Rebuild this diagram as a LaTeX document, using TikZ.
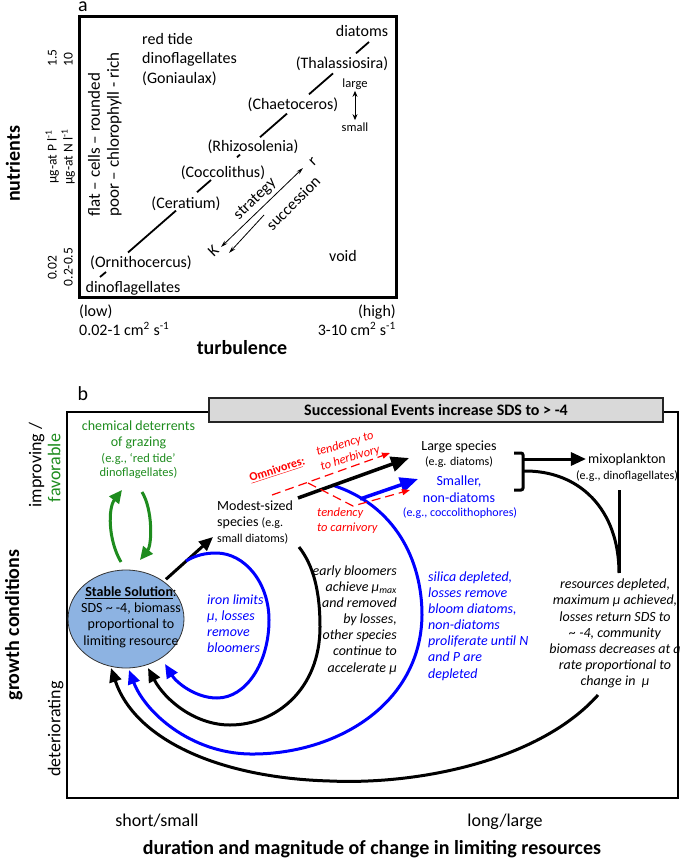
\documentclass[tikz,border=0pt]{standalone}
\usepackage{fontspec}
\setmainfont{Carlito}
\usetikzlibrary{arrows.meta,shapes.geometric}
\definecolor{grn}{RGB}{30,140,30}
\definecolor{ellblue}{RGB}{141,179,226}
\definecolor{hdrgray}{RGB}{217,217,217}
\begin{document}
\begin{tikzpicture}[x=1pt,y=-1pt,
  every node/.style={inner sep=0pt},
  sl/.style={text height={#1*0.72pt}, text depth={#1*0.02pt}},
  f16/.style={font=\fontsize{16}{19.5}\selectfont},
  f17/.style={font=\fontsize{17}{20}\selectfont},
  f125/.style={font=\fontsize{12.5}{15}\selectfont},
  f135/.style={font=\fontsize{13.5}{16}\selectfont},
  f14/.style={font=\fontsize{14}{16.2}\selectfont},
  f14i/.style={font=\fontsize{14}{16.1}\selectfont\itshape},
  f12/.style={font=\fontsize{12}{14}\selectfont},
  f18/.style={font=\fontsize{18}{21}\selectfont},
  fbig/.style={font=\fontsize{20}{24}\selectfont\bfseries},
  frd/.style={font=\fontsize{12.5}{15}\selectfont\itshape, text=red},
  seg/.style={line width=1.8pt},
  grnarrow/.style={draw=grn, line width=3pt, -{Triangle[length=13pt,width=12pt]}},
  blkloop/.style={draw=black, line width=3pt, -{Triangle[length=14pt,width=12pt]}},
  blueloop/.style={draw=blue, line width=3pt, -{Triangle[length=14pt,width=12pt]}},
  bigblk/.style={draw=black, line width=3.5pt, -{Triangle[length=18pt,width=15pt]}},
  bigblue/.style={draw=blue, line width=3.5pt, -{Triangle[length=18pt,width=15pt]}},
  reddash/.style={draw=red, line width=1.2pt, dash pattern=on 9pt off 5pt, -{Triangle[length=8pt,width=6pt]}},
  smallarr/.style={line width=0.8pt, -{Stealth[length=7pt,width=4pt]}},
]
\path[use as bounding box] (0,0) rectangle (685,858);

% ================= panel a =================
\node[font=\fontsize{20}{24}\selectfont, anchor=base, text height=10pt, text depth=0pt] (lbla) at (83,12) {a};
\draw[line width=3pt] (79,17) rectangle (396,297);

\node[f16,sl=16] (diat) at (362,31) {diatoms};
\node[f16,sl=16] (thal) at (342,63) {(Thalassiosira)};
\node[f16,align=left,anchor=west] (redt) at (142,59.5) {red tide\\dinoflagellates\\(Goniaulax)};
\node[f125,sl=12.5] (lg) at (355,83) {large};
\node[f125,sl=12.5] (sm) at (355,127) {small};
\draw[line width=0.9pt, {Stealth[length=6pt,width=5pt]}-{Stealth[length=6pt,width=5pt]}, shorten <=3pt, shorten >=2pt] (lg) -- (sm);
\node[f16,sl=16] (chae) at (293,104) {(Chaetoceros)};
\node[f16,sl=16] (rhiz) at (253,146) {(Rhizosolenia)};
\node[f16,sl=16] (cocc) at (223,172) {(Coccolithus)};
\node[f16,sl=16] (cera) at (186,203) {(Ceratium)};
\node[f16,sl=16] (orni) at (141,262) {(Ornithocercus)};
\node[f16,sl=16] (dino) at (133,287) {dinoflagellates};
\node[f16,sl=16] (void) at (343,256) {void};

\draw[seg] (100,277) -- (106,272);
\draw[seg] (128,252.5) -- (176,210.6);
\draw[seg] (197,192.2) -- (211,180);
\draw[seg] (237,157.3) -- (240,154.6);
\draw[seg] (260,137.2) -- (287,113.6);
\draw[seg] (309,94.3) -- (333,73.4);
\draw[seg] (356,53.3) -- (369,42);

\node[f17,sl=17,rotate=90,anchor=west] (flat) at (94,217) {flat – cells – rounded};
\node[f17,sl=17,rotate=90,anchor=west] (poor) at (113,217) {poor – chlorophyll - rich};

\node[fbig,sl=20,rotate=90] (nutr) at (13,164) {nutrients};
\node[f135,sl=13.5,rotate=90] (ugp) at (52,157) {µg-at P l\textsuperscript{-1}};
\node[f135,sl=13.5,rotate=90] (ugn) at (68,157) {µg-at N l\textsuperscript{-1}};
\node[f135,sl=13.5,rotate=90] (t15) at (52,58) {1.5};
\node[f135,sl=13.5,rotate=90] (t10) at (68,60) {10};
\node[f135,sl=13.5,rotate=90] (t002) at (52,268) {0.02};
\node[f135,sl=13.5,rotate=90] (t0205) at (68,267) {0.2-0.5};

\node[f16,sl=16,anchor=west] (low) at (79,311) {(low)};
\node[f16,sl=16,anchor=east] (high) at (396,311) {(high)};
\node[f16,sl=16,anchor=west] (lowv) at (79,330) {0.02-1 cm\textsuperscript{2} s\textsuperscript{-1}};
\node[f16,sl=16,anchor=east] (highv) at (396,330) {3-10 cm\textsuperscript{2} s\textsuperscript{-1}};
\node[fbig,sl=20] (turb) at (242,347) {turbulence};

\coordinate (kend) at (221,247);
\coordinate (rend) at (303,168);
\coordinate (s1) at (264,215);
\coordinate (s2) at (229,253);
\draw[line width=0.8pt, {Stealth[length=7pt,width=4pt]}-{Stealth[length=7pt,width=4pt]}] (kend) -- (rend);
\draw[smallarr] (s1) -- (s2);
\node[f16,sl=16,rotate=44] (strat) at (254,198) {strategy};
\node[f16,sl=16,rotate=45] (succ) at (293,203) {succession};
\node[f16,sl=16,rotate=44] (K) at (213,251) {K};
\node[f16,sl=16,rotate=44] (r) at (312,161) {r};

% ================= panel b =================
\node[font=\fontsize{20}{24}\selectfont, anchor=base] (lblb) at (83,400) {b};
\draw[line width=2.5pt] (67,412) rectangle (678,798);
\node[draw=black!85, fill=hdrgray, line width=1.3pt, minimum width=454pt, minimum height=24pt, font=\fontsize{16}{19}\selectfont\bfseries] (hdr) at (436,410) {Successional Events increase SDS to > -4};

\node[text=grn, align=center, font=\fontsize{14}{16.5}\selectfont] (chem) at (138.5,435) {chemical deterrents\\of grazing};
\node[font=\fontsize{12.5}{14}\selectfont, text=grn, align=center] (eg) at (138.5,466.5) {(e.g., ‘red tide’\\dinoflagellates)};

\draw[grnarrow] (121,562) .. controls (108,540) and (108,508) .. (122,490);
\draw[grnarrow] (142,492) .. controls (153,510) and (152,545) .. (140,560);

\node[ellipse, draw=black!80, line width=0.8pt, fill=ellblue, minimum width=116pt, minimum height=98pt] (ss) at (126,619) {};
\node[f14, align=center] (sstxt) at (131,617) {\underline{\textbf{Stable Solution}}:\\SDS \textasciitilde{} -4, biomass\\proportional to\\limiting resource};

\node[f14i, text=blue, align=left, anchor=west] (iron) at (207,624) {iron limits\\µ, losses\\remove\\bloomers};

\coordinate (modtip) at (213,537);
\draw[blkloop, shorten <=3pt] (ss.45) -- (modtip);
\node[f14, align=left, anchor=west] (modest) at (217,522.5) {Modest-sized\\species {\fontsize{12}{16}\selectfont (e.g.}\\{\fontsize{12}{16}\selectfont small diatoms)}};

% loops back to the stable solution
\draw[blueloop] (186,561) .. controls (196,555) and (206,553) .. (216,553) .. controls (245,553) and (269,583) .. (269,620) .. controls (269,663) and (246,698) .. (217,698) .. controls (195,698) and (176,682) .. (165,664);
\draw[blkloop] (299,547) .. controls (313,565) and (320,590) .. (320,627) .. controls (320,690) and (275,725) .. (230,725) .. controls (195,725) and (165,700) .. (148,668);
\draw[blueloop] (332,485) .. controls (395,505) and (422,560) .. (422,615) .. controls (421,705) and (335,755) .. (250,754) .. controls (190,753) and (145,712) .. (129,670);
\draw[blkloop] (598,695) .. controls (540,760) and (420,785) .. (330,781) .. controls (220,778) and (135,740) .. (111,668);

% succession arrows
\draw[bigblk] (298,498) -- (409,458);
\draw[bigblue] (360,499) -- (418,479);
\draw[reddash] (272,495) -- (390,453);
\draw[reddash] (308,483) -- (353,506) -- (410,490);

\node[font=\fontsize{12}{14}\selectfont\bfseries, text=red, sl=12, rotate=18] (omni) at (277,469) {\underline{Omnivores}:};
\node[frd, align=left, rotate=17] (herb) at (348,451) {tendency to\\to herbivory};
\node[frd, align=left, anchor=west] (carn) at (317,520.5) {tendency\\to carnivory};

\node[f14,sl=14] (lsp) at (459,446) {Large species};
\node[f12,sl=12] (lspeg) at (459,461) {(e.g. diatoms)};
\node[f14,sl=14,text=blue] (smal) at (459,481) {Smaller,};
\node[f14,sl=14,text=blue] (nond) at (459,497.5) {non-diatoms};
\node[f12,sl=12,text=blue] (nondeg) at (460,512) {(e.g., coccolithophores)};

\draw[line width=3pt, rounded corners=2pt] (514,453) -- (523,453) -- (523,490) -- (514,490);
\node[f14,sl=14] (mixo) at (627,459) {mixoplankton};
\node[f12,sl=12] (mixoeg) at (627,475) {(e.g., dinoflagellates)};
\coordinate (brk) at (523,459);
\draw[line width=3pt, -{Triangle[length=15pt,width=13pt]}, shorten >=2pt] (brk) -- (mixo);
\draw[line width=3pt] (523,471) .. controls (580,470) and (619,510) .. (619,573);
\draw[line width=3pt] (619,490) -- (619,573);

\node[f14i, align=center] (res) at (615,633.5) {resources depleted,\\maximum µ achieved,\\losses return SDS to\\\textasciitilde{} -4, community\\biomass decreases at a\\rate proportional to\\change in\ \ µ};
\node[f14i, align=right, anchor=east] (early) at (397,620) {early bloomers\\achieve µ\textsubscript{max}\\and removed\\by losses,\\other species\\continue to\\accelerate µ};
\node[f14i, text=blue, align=left, anchor=west] (sil) at (428,626) {silica depleted,\\losses remove\\bloom diatoms,\\non-diatoms\\proliferate until N\\and P are\\depleted};

\node[fbig,sl=20,rotate=90] (grow) at (12,625) {growth conditions};
\node[f18,sl=18,rotate=90] (impr) at (35,465) {improving /};
\node[f18,sl=18,rotate=90,text=grn] (fav) at (54,468) {favorable};
\node[f18,sl=18,rotate=90] (det) at (54,729) {deteriorating};
\node[f18,sl=18] (short) at (157,820) {short/small};
\node[f18,sl=18] (long) at (505,820) {long/large};
\node[fbig,sl=20] (dur) at (372,847) {duration and magnitude of change in limiting resources};
\end{tikzpicture}
\end{document}
